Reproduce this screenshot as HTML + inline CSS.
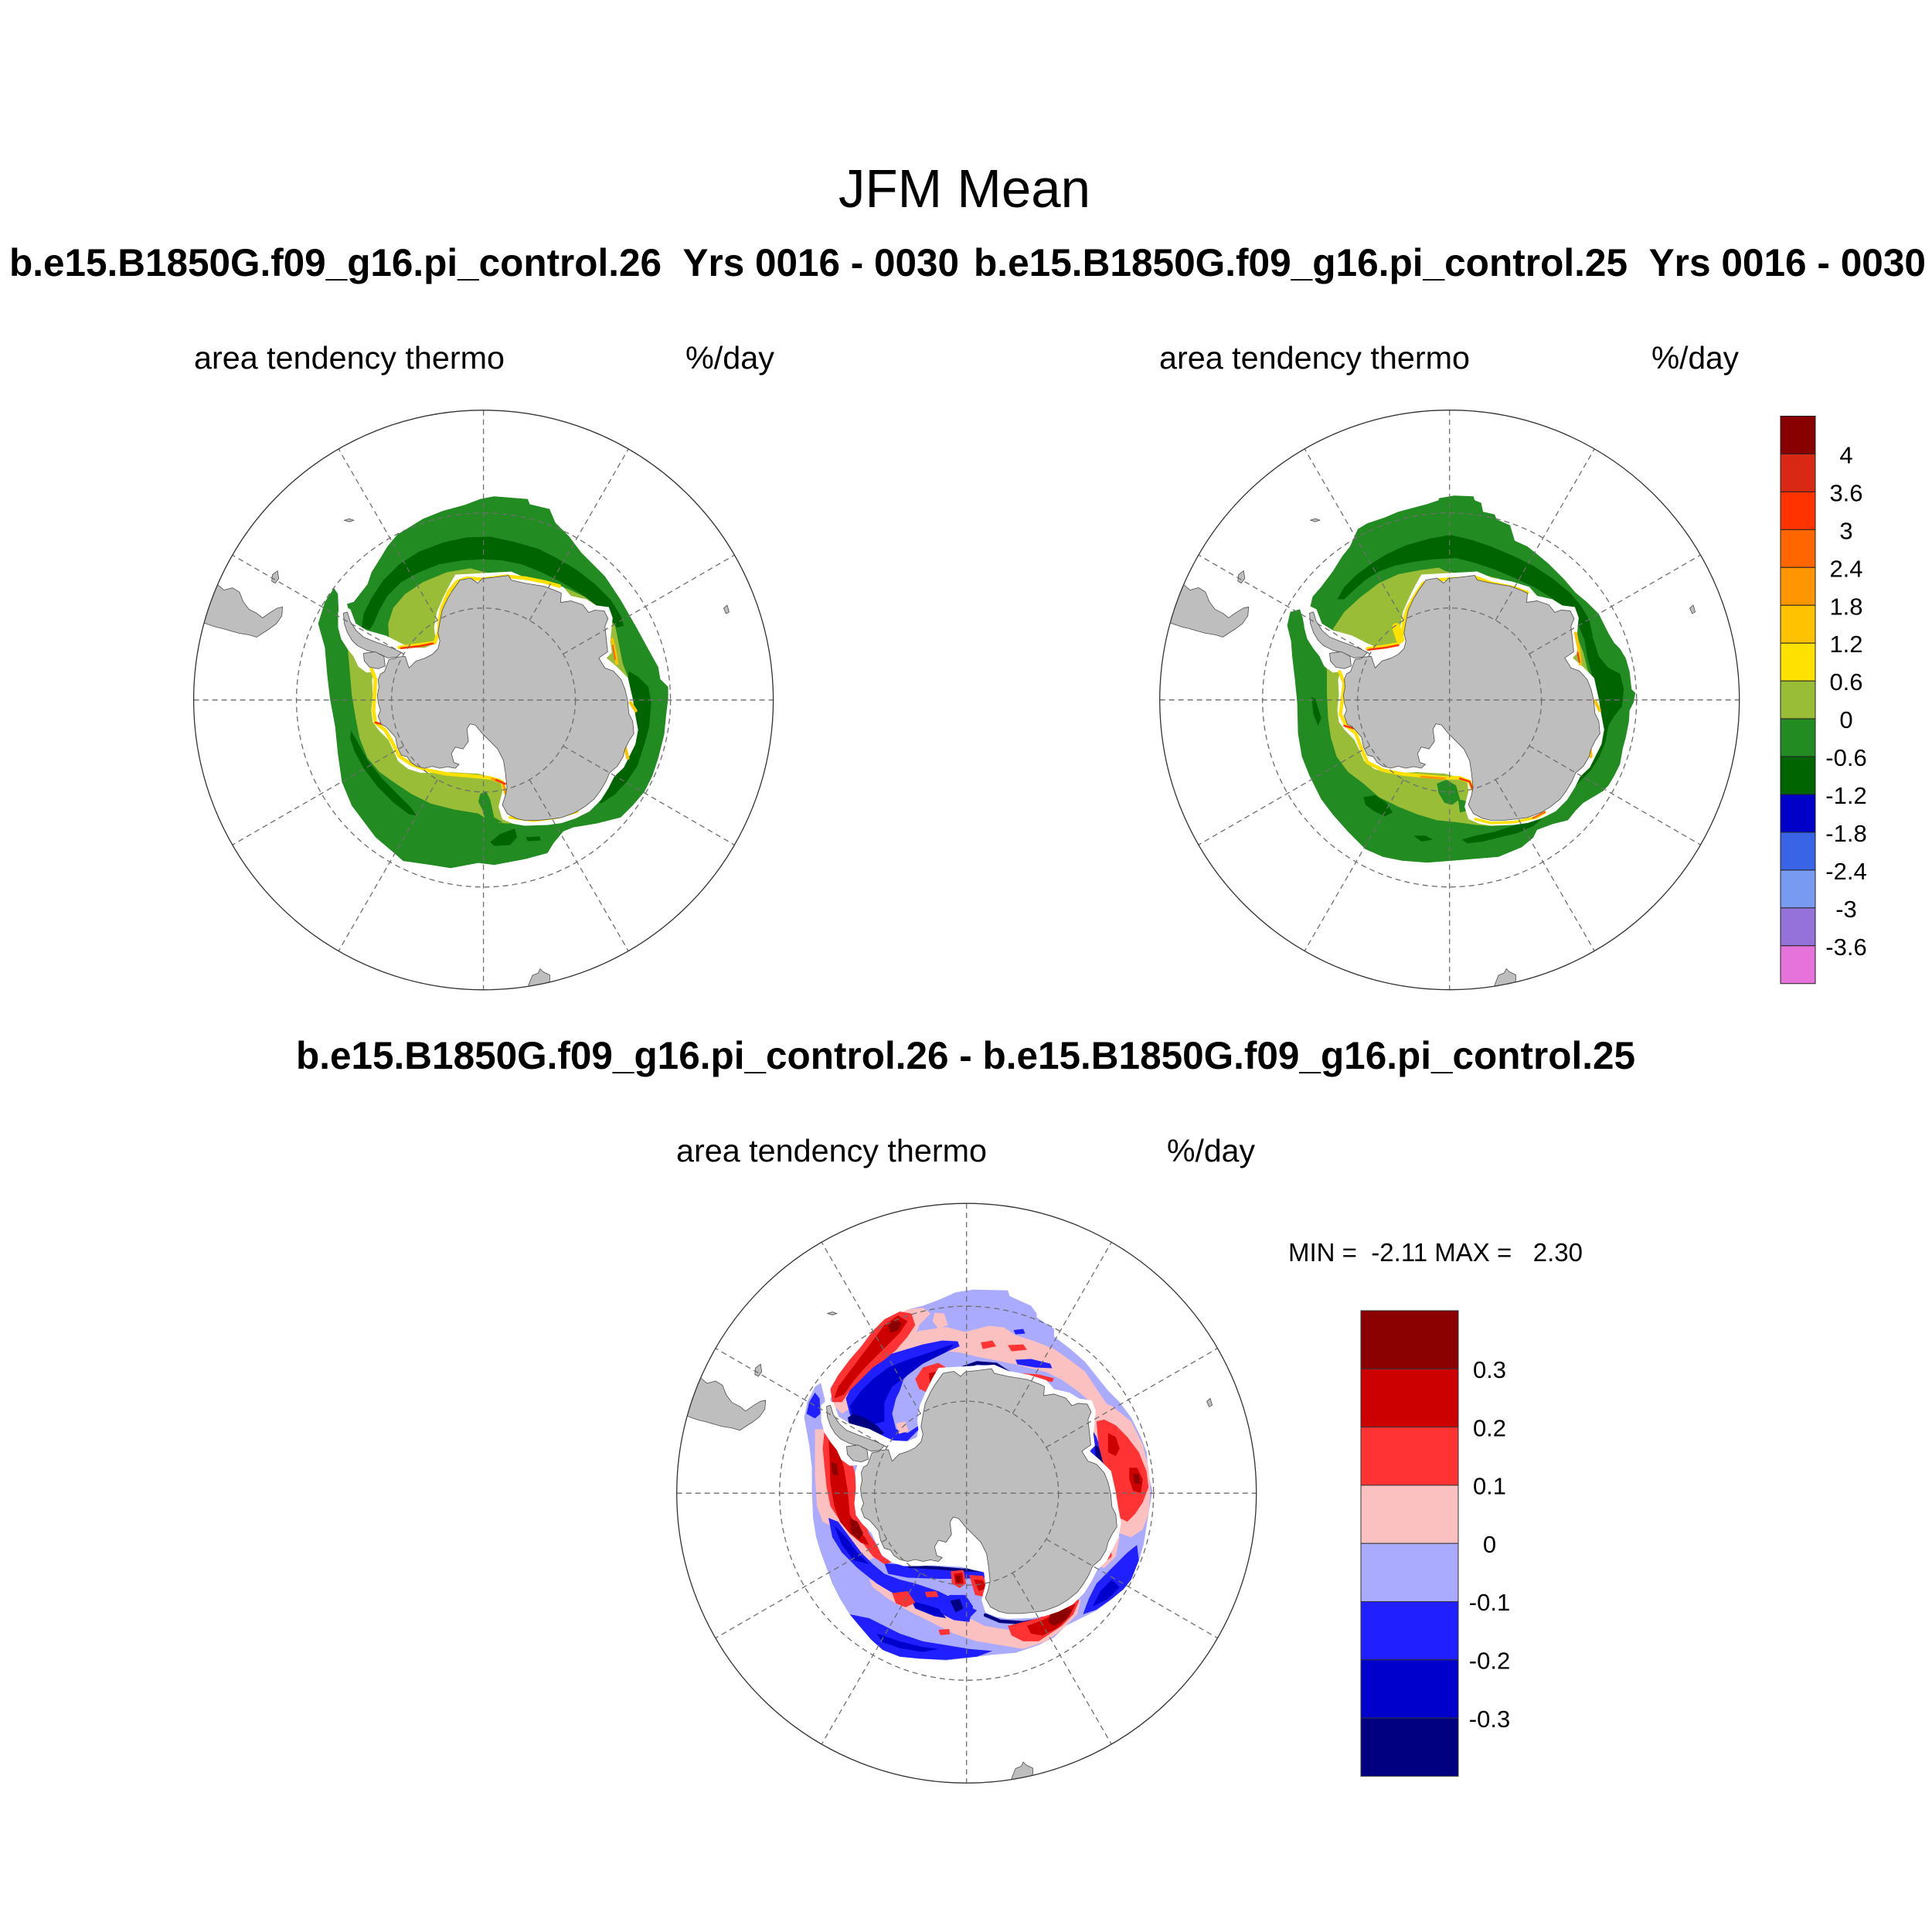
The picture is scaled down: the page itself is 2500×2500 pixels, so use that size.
<!DOCTYPE html>
<html><head><meta charset="utf-8"><style>
html,body{margin:0;padding:0;background:#fff;}
svg{display:block;}
text{font-family:"Liberation Sans",Arial,Helvetica,sans-serif;fill:#000;}
</style></head><body>
<svg width="2500" height="2500" viewBox="0 0 2500 2500" xmlns="http://www.w3.org/2000/svg">
<rect x="0" y="0" width="2500" height="2500" fill="#fff"/>
<defs>
<clipPath id="cL"><circle cx="625.6" cy="905.8" r="375"/></clipPath>
<clipPath id="cR"><circle cx="1875.7" cy="905.7" r="375"/></clipPath>
<clipPath id="cB"><circle cx="1250.7" cy="1932.2" r="375"/></clipPath>

<g id="nodata">
<path fill="#fff" d="M700,448 L770,444 L845,440 L882,456 L935,466 L980,480 L1000,503 L1040,512 L1066,528 L1098,532 L1108,560 L1102,620 L1106,650 L1092,664 L1118,686 L1148,716 L1160,770 L1166,808 L1174,850 L1167,888 L1150,922 L1137,948 L1112,972 L1098,1000 L1078,1032 L1048,1062 L1012,1080 L976,1092 L940,1097 L880,1099 L850,1094 L822,1082 L812,1050 L822,1010 L818,978 L790,972 L760,964 L720,962 L690,960 L650,962 L610,962 L578,952 L552,932 L540,905 L526,876 L502,852 L486,830 L482,800 L486,760 L484,720 L490,700 L470,702 L448,686 L436,660 L420,640 L404,615 L396,585 L396,545 L412,530 L428,538 L442,575 L470,592 L520,606 L560,626 L582,636 L620,638 L644,628 L648,608 L645,585 L652,545 L668,508 L684,476 Z"/>
</g>

<g id="land" fill="#bebebe" stroke="#4d4d4d" stroke-width="1.6" stroke-linejoin="round">
<path d="M712,462 L740,457 L758,470 L770,458 L800,455 L838,450 L845,462 L880,470 L930,478 L962,490 L975,496 L973,520 L1000,516 L1030,526 L1046,546 L1062,540 L1086,542 L1096,562 L1088,582 L1092,620 L1095,648 L1072,664 L1088,690 L1110,698 L1130,720 L1140,745 L1147,775 L1150,808 L1160,828 L1163,860 L1150,880 L1140,900 L1135,920 L1120,945 L1100,962 L1090,985 L1075,1010 L1060,1030 L1035,1050 L1010,1065 L975,1078 L945,1082 L915,1085 L880,1085 L858,1080 L835,1068 L822,1045 L830,1020 L834,1000 L830,962 L825,930 L810,900 L790,880 L770,860 L752,838 L738,835 L730,848 L734,880 L720,900 L700,895 L690,912 L696,935 L710,940 L700,950 L680,946 L660,950 L640,945 L620,950 L600,945 L585,935 L575,920 L560,916 L550,895 L545,870 L533,856 L520,842 L508,836 L500,815 L506,800 L500,780 L498,760 L502,740 L500,720 L506,705 L516,700 L522,684 L528,668 L545,665 L560,650 L540,640 L520,632 L492,622 L462,610 L442,592 L427,568 L420,545 L410,548 L412,574 L420,598 L432,618 L446,632 L470,644 L500,652 L525,664 L548,662 L570,660 L580,690 L598,672 L620,665 L640,655 L655,640 L660,620 L655,600 L660,570 L666,540 L680,510 L692,490 Z"/>
<path d="M462,652 L492,648 L515,660 L518,685 L500,692 L478,688 L464,672 Z"/>
<path d="M85,475 L100,488 L122,482 L140,493 L150,518 L165,538 L185,548 L200,560 L220,546 L238,535 L252,532 L250,555 L236,575 L216,590 L200,600 L185,610 L165,604 L140,600 L118,594 L98,588 L80,584 L62,578 L40,570 L40,470 Z"/>
<path d="M226,448 L239,438 L242,458 L233,470 L224,465 Z"/>
<path d="M412,307 L425,303 L437,307 L425,311 Z"/>
<path d="M1396,535 L1405,527 L1410,545 L1402,549 Z"/>
<path d="M890,1512 L900,1487 L915,1481 L920,1470 L928,1478 L945,1486 L945,1500 L930,1530 L890,1530 Z"/>
</g>

<g id="grat" fill="none">
<circle cx="0" cy="0" r="242" stroke="#6e6e6e" stroke-width="1.3" stroke-dasharray="7 5"/>
<circle cx="0" cy="0" r="119" stroke="#6e6e6e" stroke-width="1.3" stroke-dasharray="7 5"/>
<g stroke="#6e6e6e" stroke-width="1.3" stroke-dasharray="7 5">
<line x1="0" y1="-375" x2="0" y2="375"/>
<line x1="-375" y1="0" x2="375" y2="0"/>
<line x1="59.5" y1="-103.1" x2="187.5" y2="-324.8"/>
<line x1="103.1" y1="-59.5" x2="324.8" y2="-187.5"/>
<line x1="103.1" y1="59.5" x2="324.8" y2="187.5"/>
<line x1="59.5" y1="103.1" x2="187.5" y2="324.8"/>
<line x1="-59.5" y1="103.1" x2="-187.5" y2="324.8"/>
<line x1="-103.1" y1="59.5" x2="-324.8" y2="187.5"/>
<line x1="-103.1" y1="-59.5" x2="-324.8" y2="-187.5"/>
<line x1="-59.5" y1="-103.1" x2="-187.5" y2="-324.8"/>
</g>
<circle cx="0" cy="0" r="375" stroke="#333" stroke-width="1.3"/>
</g>
</defs>

<!-- Titles -->
<text x="1085" y="268" font-size="70" textLength="326" lengthAdjust="spacingAndGlyphs">JFM Mean</text>
<text x="12" y="357" font-size="50" font-weight="bold" textLength="1229" lengthAdjust="spacingAndGlyphs">b.e15.B1850G.f09_g16.pi_control.26 &#160;Yrs 0016 - 0030</text>
<text x="1260" y="357" font-size="50" font-weight="bold" textLength="1232" lengthAdjust="spacingAndGlyphs">b.e15.B1850G.f09_g16.pi_control.25 &#160;Yrs 0016 - 0030</text>
<text x="251" y="477" font-size="41" textLength="402" lengthAdjust="spacingAndGlyphs">area tendency thermo</text>
<text x="887" y="477" font-size="41" textLength="115" lengthAdjust="spacingAndGlyphs">%/day</text>
<text x="1500" y="477" font-size="41" textLength="402" lengthAdjust="spacingAndGlyphs">area tendency thermo</text>
<text x="2137" y="477" font-size="41" textLength="113" lengthAdjust="spacingAndGlyphs">%/day</text>
<text x="383" y="1383" font-size="50" font-weight="bold" textLength="1733" lengthAdjust="spacingAndGlyphs">b.e15.B1850G.f09_g16.pi_control.26 - b.e15.B1850G.f09_g16.pi_control.25</text>
<text x="875" y="1503" font-size="41" textLength="402" lengthAdjust="spacingAndGlyphs">area tendency thermo</text>
<text x="1510" y="1503" font-size="41" textLength="114" lengthAdjust="spacingAndGlyphs">%/day</text>
<text x="1667" y="1632" font-size="33" textLength="381" lengthAdjust="spacingAndGlyphs" xml:space="preserve">MIN =  -2.11 MAX =   2.30</text>

<!-- LEFT PLOT -->
<g clip-path="url(#cL)">
<g transform="translate(625.6,905.8) scale(0.5118) translate(-773,-793)">
<path fill="#228b22" d="M765,285 L800,278 L885,285 L890,298 L940,310 L955,345 L990,380 L1020,420 L1080,480 L1120,540 L1160,610 L1190,665 L1215,710 L1220,740 L1240,760 L1240,790 L1235,830 L1230,880 L1215,940 L1200,985 L1180,1025 L1150,1060 L1120,1090 L1060,1105 L1000,1115 L975,1125 L950,1155 L935,1180 L880,1195 L800,1210 L760,1205 L690,1218 L640,1210 L570,1200 L545,1178 L500,1140 L470,1100 L440,1060 L415,1000 L405,930 L398,860 L385,790 L378,730 L372,660 L355,600 L372,545 L395,510 L405,525 L408,600 L428,640 L440,600 L428,550 L445,545 L480,500 L490,470 L515,430 L530,405 L555,375 L620,335 L670,315 L725,300 Z"/>
<path fill="#99bd36" d="M535,650 L532,600 L545,560 L575,525 L620,495 L680,470 L740,460 L770,468 L800,476 L870,480 L940,494 L990,514 L1040,537 L1085,566 L1105,600 L1115,650 L1125,700 L1140,740 L1150,790 L1160,830 L1162,880 L1150,920 L1135,960 L1110,990 L1080,1030 L1040,1060 L990,1085 L940,1100 L880,1105 L830,1105 L790,1100 L760,1080 L700,1070 L640,1055 L590,1030 L545,1000 L510,975 L480,940 L460,890 L450,840 L440,780 L435,720 L430,665 L460,655 L500,652 Z"/>
<path fill="#228b22" d="M765,1030 L780,1025 L790,1045 L800,1090 L822,1102 L780,1102 L770,1070 L760,1050 Z"/>
<path fill="#006400" d="M465,610 L470,575 L490,535 L520,490 L560,450 L610,418 L670,395 L730,382 L790,380 L850,393 L910,410 L960,435 L1010,465 L1055,500 L1095,540 L1120,580 L1128,605 L1110,610 L1090,585 L1060,555 L1020,525 L970,495 L920,470 L870,450 L820,440 L770,437 L720,440 L660,450 L610,470 L565,495 L530,530 L510,565 L495,600 L485,615 Z"/>
<path fill="#006400" d="M1140,720 L1165,735 L1190,760 L1197,800 L1192,860 L1180,905 L1162,960 L1135,1000 L1105,1032 L1070,1055 L1058,1045 L1085,1005 L1115,965 L1138,925 L1150,880 L1158,835 L1150,785 L1138,750 Z"/>
<path fill="#006400" d="M438,870 L455,900 L480,945 L515,990 L555,1030 L590,1065 L603,1085 L585,1082 L545,1052 L505,1012 L470,965 L448,925 L436,890 Z"/>
<path fill="#006400" d="M790,1152 L815,1132 L852,1118 L858,1140 L840,1160 L800,1162 Z M880,1140 L915,1138 L918,1148 L885,1150 Z"/>
</g>
<use href="#nodata" transform="translate(625.6,905.8) scale(0.499) translate(-773,-773)"/>
<g transform="translate(625.6,905.8) scale(0.5118) translate(-773,-793)" fill="none" stroke-linejoin="round" stroke-linecap="round">
<path stroke="#ffe100" stroke-width="9" d="M560,660 L600,655 L650,648 L660,620 L662,590 L668,560 L685,520 L705,495 L730,485 L770,488 L830,480 L880,485 L930,495 L965,505"/>
<path stroke="#ff3300" stroke-width="5" d="M565,662 L610,657 L645,650"/>
<path stroke="#ffe100" stroke-width="9" d="M490,715 L500,740 L498,780 L495,820 L500,850 L525,870 L545,905 L560,935 L590,955 L630,970 L680,980 L740,985 L790,990 L820,1000 L830,1030"/>
<path stroke="#ff9900" stroke-width="6" d="M795,992 L822,1002 L830,1030"/>
<path stroke="#ff3300" stroke-width="5" d="M500,850 L535,858 M805,995 L828,1005"/>
<path stroke="#ffe100" stroke-width="7" d="M840,1090 L900,1098 L960,1090 L1010,1075"/>
<path stroke="#ffc400" stroke-width="8" d="M1098,640 L1105,670 L1110,700 M1145,800 L1158,820 M1128,900 L1138,940"/>
<path stroke="#ff6600" stroke-width="4" d="M1100,655 L1106,690"/>
</g>
<use href="#land" transform="translate(625.6,905.8) scale(0.499) translate(-773,-773)"/>
</g>
<use href="#grat" transform="translate(625.6,905.8)"/>

<!-- RIGHT PLOT -->
<g clip-path="url(#cR)">
<g transform="translate(1875.7,905.7) scale(0.499) translate(-773,-773)">
<path fill="#228b22" d="M745,250 L785,243 L835,245 L838,255 L855,262 L860,285 L890,292 L895,305 L930,320 L942,360 L975,375 L1000,395 L1030,420 L1070,460 L1100,495 L1130,520 L1160,550 L1185,600 L1200,625 L1215,640 L1230,665 L1240,700 L1245,745 L1255,755 L1250,780 L1240,800 L1238,830 L1230,870 L1222,900 L1215,940 L1200,970 L1185,995 L1170,1010 L1120,1040 L1100,1060 L1080,1085 L1040,1095 L1000,1110 L990,1130 L960,1155 L900,1180 L840,1185 L780,1190 L715,1195 L650,1190 L600,1180 L555,1160 L540,1145 L510,1115 L470,1070 L440,1030 L410,970 L390,920 L380,860 L378,780 L372,720 L365,660 L362,620 L352,580 L360,545 L385,538 L392,560 L400,600 L412,620 L425,612 L415,575 L412,530 L418,505 L440,480 L470,440 L495,400 L515,375 L535,330 L560,315 L605,300 L640,285 L715,265 L745,255 Z"/>
<path fill="#99bd36" d="M470,590 L500,545 L540,508 L590,470 L640,447 L700,436 L745,430 L765,440 L800,446 L850,446 L900,458 L960,482 L990,494 L1000,508 L1060,534 L1088,564 L1100,600 L1120,650 L1130,690 L1140,720 L1150,760 L1160,780 L1170,820 L1165,870 L1150,900 L1145,930 L1120,955 L1100,990 L1080,1020 L1060,1045 L1040,1060 L1010,1075 L970,1088 L920,1098 L880,1100 L840,1097 L790,1090 L740,1085 L690,1070 L640,1050 L590,1025 L550,990 L510,960 L480,920 L465,870 L458,820 L455,760 L455,700 L450,660 L460,640 L480,620 L520,620 L540,630 L560,625 Z"/>
<path fill="#228b22" d="M740,990 L765,980 L790,995 L800,1030 L780,1045 L760,1040 L745,1015 Z M795,1030 L815,1035 L820,1060 L800,1065 Z"/>
<path fill="#006400" d="M482,512 L500,480 L530,450 L570,420 L610,395 L660,372 L720,355 L775,345 L830,358 L880,375 L940,400 L990,425 L1040,458 L1085,495 L1115,530 L1135,565 L1145,610 L1122,615 L1105,575 L1075,540 L1040,510 L995,482 L945,458 L890,435 L840,418 L790,405 L730,408 L680,415 L630,425 L590,440 L555,462 L525,488 L500,512 Z"/>
<path fill="#006400" d="M1122,610 L1145,612 L1160,660 L1185,690 L1215,705 L1225,745 L1220,790 L1200,815 L1185,840 L1178,880 L1162,920 L1140,955 L1110,985 L1080,1015 L1050,1045 L1020,1075 L990,1100 L950,1118 L900,1130 L860,1140 L820,1145 L805,1135 L840,1125 L890,1115 L935,1100 L975,1085 L1010,1060 L1045,1030 L1075,1000 L1105,968 L1135,930 L1152,890 L1160,850 L1165,815 L1160,780 L1150,740 L1140,700 L1130,660 Z"/>
<path fill="#006400" d="M550,1025 L580,1020 L610,1040 L625,1065 L605,1075 L575,1060 L555,1045 Z M680,1125 L710,1125 L730,1135 L700,1140 Z M415,765 L425,770 L440,820 L432,840 L420,810 Z"/>
</g>
<use href="#nodata" transform="translate(1875.7,905.7) scale(0.499) translate(-773,-773)"/>
<g transform="translate(1875.7,905.7) scale(0.499) translate(-773,-773)" fill="none" stroke-linejoin="round" stroke-linecap="round">
<path stroke="#ffe100" stroke-width="9" d="M560,640 L600,635 L640,628 L652,600 L655,565 L665,535 L685,500 L705,470 L740,462 L800,458 L840,455 L880,470 L940,482 L975,495"/>
<path stroke="#ffe100" stroke-width="22" d="M635,585 L645,615"/>
<path stroke="#ff3300" stroke-width="5" d="M562,643 L610,637 L640,631"/>
<path stroke="#ffe100" stroke-width="9" d="M488,700 L500,730 L495,770 L490,810 L505,840 L530,860 L545,900 L560,935 L600,955 L650,965 L700,970 L760,975 L800,975 L825,985 L835,1010"/>
<path stroke="#ff3300" stroke-width="5" d="M500,840 L530,848 M800,977 L825,985 L835,1010"/>
<path stroke="#ff9900" stroke-width="6" d="M700,972 L760,977"/>
<path stroke="#ffe100" stroke-width="7" d="M840,1082 L880,1092 L940,1090 L1000,1077 L1020,1064"/>
<path stroke="#ff6600" stroke-width="5" d="M990,1079 L1020,1064"/>
<path stroke="#ffc400" stroke-width="8" d="M1100,600 L1108,640 L1112,680 M1150,775 L1162,800 M1135,880 L1140,920"/>
<path stroke="#ff3300" stroke-width="4" d="M1105,650 L1110,675"/>
</g>
<use href="#land" transform="translate(1875.7,905.7) scale(0.499) translate(-773,-773)"/>
</g>
<use href="#grat" transform="translate(1875.7,905.7)"/>

<!-- BOTTOM PLOT -->
<g clip-path="url(#cB)">
<g transform="translate(1250.7,1932.2) scale(0.499) translate(-773,-766)">
<path fill="#aaaaff" d="M745,245 L790,238 L880,240 L885,255 L940,280 L955,300 L955,310 L1000,340 L1000,360 L1040,390 L1080,425 L1100,450 L1140,500 L1170,530 L1200,570 L1225,620 L1240,660 L1245,720 L1255,760 L1248,800 L1240,850 L1232,900 L1220,940 L1200,980 L1185,1010 L1150,1040 L1110,1070 L1080,1085 L1050,1100 L1030,1110 L1000,1140 L960,1160 L900,1180 L840,1185 L800,1190 L720,1200 L650,1195 L600,1190 L560,1175 L530,1150 L500,1115 L470,1080 L445,1040 L425,1000 L410,960 L395,920 L383,880 L375,830 L372,760 L372,700 L365,640 L352,570 L360,530 L380,490 L395,480 L405,520 L410,560 L418,590 L428,600 L420,560 L420,520 L440,490 L465,450 L490,415 L515,380 L545,340 L570,315 L620,290 L660,280 L700,265 Z"/>
<g fill="#fbc0c0">
<path d="M430,540 L420,500 L440,460 L480,420 L520,370 L560,320 L620,290 L660,285 L680,300 L650,330 L640,360 L620,390 L590,420 L560,450 L520,500 L480,540 L450,560 Z"/>
<path d="M690,298 L715,300 L725,330 L700,340 L685,320 Z"/>
<path d="M600,380 L650,345 L720,335 L770,348 L830,332 L870,336 L900,356 L950,372 L1000,392 L1040,420 L1080,450 L1100,480 L1120,510 L1140,540 L1120,560 L1095,530 L1060,500 L1020,472 L980,452 L940,442 L900,432 L850,422 L800,412 L760,402 L720,397 L680,402 L640,402 Z"/>
<path d="M1100,520 L1150,540 L1200,580 L1230,640 L1245,700 L1250,760 L1245,820 L1230,860 L1200,880 L1170,870 L1150,840 L1130,800 L1110,740 L1100,680 L1095,620 Z"/>
<path d="M380,600 L420,600 L460,640 L480,700 L490,780 L500,850 L520,900 L540,930 L520,940 L480,900 L440,860 L400,840 L385,800 L380,720 Z"/>
<path d="M520,990 L580,1000 L640,1010 L700,1040 L760,1080 L820,1110 L880,1120 L940,1110 L1000,1100 L1040,1070 L1070,1040 L1060,1080 L1020,1120 L980,1150 L920,1170 L860,1160 L800,1150 L740,1130 L680,1100 L620,1070 L570,1040 L530,1010 Z"/>
<path d="M1100,860 L1140,850 L1170,880 L1160,930 L1130,960 L1100,950 L1095,900 Z"/>
</g>
<g fill="#1f1fff">
<path d="M470,560 L460,520 L480,480 L520,440 L560,410 L610,395 L660,380 L710,370 L750,372 L755,385 L720,400 L680,420 L640,440 L610,470 L600,500 L620,520 L650,530 L660,560 L650,600 L620,630 L580,640 L540,640 L500,620 Z"/>
<path d="M415,830 L440,840 L470,880 L500,920 L530,950 L560,975 L600,990 L640,1000 L700,1020 L760,1050 L800,1070 L780,1090 L740,1085 L700,1070 L640,1050 L590,1030 L540,1000 L490,960 L450,920 L425,880 Z"/>
<path d="M470,1080 L520,1090 L560,1110 L600,1130 L660,1150 L720,1160 L780,1170 L840,1175 L800,1190 L720,1198 L650,1195 L600,1190 L555,1172 L525,1145 L495,1110 Z"/>
<path d="M1075,1080 L1090,1040 L1110,1000 L1150,960 L1190,920 L1215,900 L1220,940 L1200,990 L1180,1015 L1150,1040 L1110,1068 Z"/>
<path d="M358,560 L365,530 L380,505 L392,520 L394,560 L380,572 Z"/>
<path d="M900,420 L940,418 L990,430 L995,442 L950,440 L905,432 Z"/>
<path d="M1098,600 L1110,620 L1120,650 L1130,680 L1140,710 L1130,722 L1110,700 L1095,660 L1092,630 Z"/>
<path d="M700,1050 L730,1030 L770,1030 L790,1060 L780,1100 L740,1095 L710,1080 Z"/>
<path d="M560,948 L620,952 L700,958 L760,962 L822,962 L822,985 L760,988 L700,988 L620,985 L570,975 Z"/>
<path d="M895,343 L920,340 L925,352 L900,354 Z"/>
</g>
<g fill="#aaaaff">
<path d="M600,500 L640,500 L660,540 L650,590 L620,610 L590,600 L580,560 L590,520 Z"/>
</g>
<path fill="#fbc0c0" d="M590,585 L615,580 L622,605 L598,612 Z"/>
<g fill="#0000cd">
<path d="M470,540 L500,500 L530,470 L570,440 L620,420 L680,400 L720,385 L740,380 L720,400 L660,430 L620,460 L580,490 L560,530 L560,580 L520,590 L480,580 Z"/>
<path d="M430,850 L460,880 L490,920 L520,950 L480,940 L450,900 Z"/>
<path d="M540,1130 L600,1150 L660,1165 L700,1170 L660,1178 L600,1168 L555,1152 Z"/>
<path d="M1100,1060 L1120,1020 L1150,990 L1170,1010 L1140,1040 Z"/>
<path d="M630,1045 L700,1065 L720,1090 L690,1085 L640,1065 Z"/>
</g>
<g fill="#000080">
<path d="M465,570 L480,560 L510,570 L540,590 L560,610 L540,620 L500,610 L470,595 Z"/>
<path d="M730,1045 L755,1040 L765,1065 L745,1075 Z"/>
<path d="M1105,640 L1120,650 L1135,690 L1122,700 L1108,670 Z"/>
</g>
<g fill="none" stroke-linecap="round" stroke-linejoin="round">
<path stroke="#000080" stroke-width="9" d="M760,442 L800,428 L850,432 L880,452 L910,462 L950,472 L980,487 L1000,502"/>
<path stroke="#000080" stroke-width="9" d="M822,1082 L860,1098 L920,1102 L980,1092 L1030,1068"/>
<path stroke="#000080" stroke-width="8" d="M625,956 L700,960 L760,965 L822,966"/>
</g>
<g fill="#ff3333">
<path d="M425,530 L420,495 L440,460 L470,420 L500,385 L530,345 L560,315 L600,295 L630,300 L640,330 L620,360 L590,395 L560,420 L530,440 L500,470 L470,500 L450,530 Z"/>
<path d="M1110,580 L1130,575 L1160,590 L1190,620 L1220,660 L1240,710 L1245,750 L1230,790 L1210,820 L1190,840 L1170,830 L1160,800 L1150,760 L1140,720 L1125,680 L1115,640 Z"/>
<path d="M405,600 L420,600 L440,620 L460,660 L480,700 L490,740 L495,790 L505,830 L520,870 L540,900 L555,930 L580,945 L560,950 L530,930 L500,890 L470,860 L440,830 L420,800 L410,750 L405,700 L400,650 Z"/>
<path d="M880,1110 L920,1100 L960,1090 L1000,1070 L1030,1050 L1055,1035 L1065,1045 L1050,1080 L1020,1110 L990,1130 L960,1150 L920,1150 L890,1135 Z"/>
<path d="M640,470 L660,440 L700,428 L720,440 L715,470 L700,500 L670,505 L650,495 Z"/>
<path d="M732,968 L765,965 L772,1000 L755,1012 L735,1000 Z"/>
<path d="M780,978 L815,980 L832,1010 L820,1035 L795,1030 Z"/>
<path d="M810,375 L840,370 L850,385 L815,392 Z M880,382 L920,380 L930,394 L890,398 Z"/>
<path d="M580,1025 L620,1020 L640,1050 L615,1062 L590,1052 Z M665,1022 L695,1020 L700,1035 L670,1036 Z M700,1120 L728,1118 L730,1132 L705,1134 Z"/>
<path d="M1118,905 L1145,898 L1150,930 L1128,948 L1115,935 Z"/>
<path d="M920,455 L960,458 L1000,468 L995,478 L955,470 L922,466 Z"/>
</g>
<g fill="#cd0000">
<path d="M430,520 L440,490 L470,450 L500,410 L530,370 L560,330 L595,305 L620,320 L600,350 L570,380 L540,410 L510,440 L480,475 L455,510 Z"/>
<path d="M1140,610 L1160,620 L1170,650 L1160,670 L1140,660 Z M1195,700 L1215,700 L1230,730 L1225,765 L1205,760 L1195,730 Z"/>
<path d="M415,620 L440,650 L455,700 L465,760 L470,820 L490,860 L510,880 L520,900 L500,895 L470,870 L445,840 L430,800 L420,740 L418,680 Z"/>
<path d="M930,1110 L970,1095 L1010,1075 L1040,1050 L1055,1055 L1040,1085 L1010,1115 L970,1135 L940,1130 Z"/>
<path d="M675,455 L705,448 L712,470 L700,495 L680,495 Z"/>
<path d="M740,975 L762,972 L765,1000 L745,1002 Z M792,990 L815,992 L825,1012 L805,1020 Z"/>
</g>
<g fill="#8b0000">
<path d="M570,330 L590,315 L605,325 L595,345 L575,350 Z"/>
<path d="M1205,715 L1220,718 L1224,742 L1208,740 Z"/>
<path d="M470,830 L490,840 L505,870 L495,885 L475,870 Z M422,685 L436,690 L440,720 L426,718 Z"/>
<path d="M990,1080 L1030,1060 L1045,1070 L1030,1095 L1000,1110 L985,1100 Z"/>
<path d="M682,465 L700,462 L702,490 L686,490 Z M745,980 L758,980 L758,998 L746,996 Z"/>
</g>
</g>
<use href="#nodata" transform="translate(1250.7,1932.2) scale(0.499) translate(-773,-773)"/>
<use href="#land" transform="translate(1250.7,1932.2) scale(0.499) translate(-773,-773)"/>
</g>
<use href="#grat" transform="translate(1250.7,1932.2)"/>

<!-- TOP COLORBAR -->
<g stroke="#222" stroke-width="1">
<rect x="2304" y="538.5" width="45" height="48.95" fill="#880000"/>
<rect x="2304" y="587.45" width="45" height="48.95" fill="#d92814"/>
<rect x="2304" y="636.4" width="45" height="48.95" fill="#ff3300"/>
<rect x="2304" y="685.35" width="45" height="48.95" fill="#ff6600"/>
<rect x="2304" y="734.3" width="45" height="48.95" fill="#ff9500"/>
<rect x="2304" y="783.25" width="45" height="48.95" fill="#ffc200"/>
<rect x="2304" y="832.2" width="45" height="48.95" fill="#ffe100"/>
<rect x="2304" y="881.15" width="45" height="48.95" fill="#99bd36"/>
<rect x="2304" y="930.1" width="45" height="48.95" fill="#228b22"/>
<rect x="2304" y="979.05" width="45" height="48.95" fill="#006400"/>
<rect x="2304" y="1028" width="45" height="48.95" fill="#0000c8"/>
<rect x="2304" y="1076.95" width="45" height="48.95" fill="#3a64e6"/>
<rect x="2304" y="1125.9" width="45" height="48.95" fill="#789af0"/>
<rect x="2304" y="1174.85" width="45" height="48.95" fill="#9472da"/>
<rect x="2304" y="1223.8" width="45" height="48.95" fill="#e672dc"/>
</g>
<g font-size="31" text-anchor="middle">
<text x="2389" y="599.5">4</text>
<text x="2389" y="648.4">3.6</text>
<text x="2389" y="697.4">3</text>
<text x="2389" y="746.3">2.4</text>
<text x="2389" y="795.3">1.8</text>
<text x="2389" y="844.2">1.2</text>
<text x="2389" y="893.2">0.6</text>
<text x="2389" y="942.1">0</text>
<text x="2389" y="991.1">-0.6</text>
<text x="2389" y="1040">-1.2</text>
<text x="2389" y="1089">-1.8</text>
<text x="2389" y="1137.9">-2.4</text>
<text x="2389" y="1186.9">-3</text>
<text x="2389" y="1235.8">-3.6</text>
</g>

<!-- BOTTOM COLORBAR -->
<g stroke="#333" stroke-width="1">
<rect x="1761" y="1696" width="126" height="75.3" fill="#8b0000"/>
<rect x="1761" y="1771.3" width="126" height="75.3" fill="#cd0000"/>
<rect x="1761" y="1846.6" width="126" height="75.3" fill="#ff3333"/>
<rect x="1761" y="1921.9" width="126" height="75.3" fill="#fbc0c0"/>
<rect x="1761" y="1997.2" width="126" height="75.3" fill="#aaaaff"/>
<rect x="1761" y="2072.5" width="126" height="75.3" fill="#1f1fff"/>
<rect x="1761" y="2147.8" width="126" height="75.3" fill="#0000cd"/>
<rect x="1761" y="2223.1" width="126" height="75.3" fill="#000080"/>
</g>
<g font-size="31" text-anchor="middle">
<text x="1927.5" y="1783">0.3</text>
<text x="1927.5" y="1858.3">0.2</text>
<text x="1927.5" y="1933.6">0.1</text>
<text x="1927.5" y="2008.9">0</text>
<text x="1927.5" y="2084.2">-0.1</text>
<text x="1927.5" y="2159.5">-0.2</text>
<text x="1927.5" y="2234.8">-0.3</text>
</g>
</svg>
</body></html>
